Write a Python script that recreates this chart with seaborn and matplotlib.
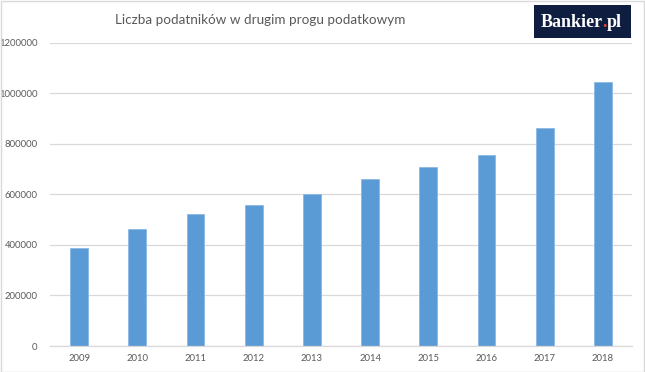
import matplotlib
matplotlib.use("Agg")
import matplotlib.pyplot as plt
import seaborn as sns
import pandas as pd
from matplotlib.patches import Rectangle
from matplotlib import font_manager

years = ["2009", "2010", "2011", "2012", "2013", "2014", "2015", "2016", "2017", "2018"]
taxpayers = [386000, 464000, 522000, 558000, 603000, 659000, 710000, 754000, 864000, 1044000]
yticks = [0, 200000, 400000, 600000, 800000, 1000000, 1200000]
title = "Liczba podatników w drugim progu podatkowym"

df = pd.DataFrame({"year": years, "value": taxpayers})

sns.set_theme(style="white")
names = {f.name for f in font_manager.fontManager.ttflist}
title_family = "Liberation Sans Narrow" if "Liberation Sans Narrow" in names else "Lato"
plt.rcParams['font.family'] = ['Lato', 'DejaVu Sans']

fig = plt.figure(figsize=(6.45, 3.72), dpi=100)
ax = fig.add_axes([50/645, 26/372, 582/645, 303.3/372])

sns.barplot(data=df, x="year", y="value", ax=ax, color="#5B9BD5",
            saturation=1, width=0.305, edgecolor="#8CB8E4", linewidth=0.6)

ax.set_ylim(0, 1200000)
ax.set_xlim(-0.5, 9.5)
ax.set_yticks(yticks)
ax.set_yticklabels([str(v) for v in yticks])
ax.set_xlabel("")
ax.set_ylabel("")
ax.grid(axis="y", color="#D9D9D9", linewidth=0.9)
ax.set_axisbelow(True)
for s in ["top", "right", "left"]:
    ax.spines[s].set_visible(False)
ax.spines["bottom"].set_color("#D9D9D9")
ax.spines["bottom"].set_linewidth(0.9)
ax.tick_params(axis="both", length=0, labelsize=6.8, labelcolor="#595959")
ax.tick_params(axis="y", pad=9)
ax.tick_params(axis="x", pad=6)

renderer = fig.canvas.get_renderer()
tt = fig.text(260/645, 1 - 20/372, title, ha="center", va="center",
              fontsize=12, color="#595959", family=[title_family, "DejaVu Sans"])
w = tt.get_window_extent(renderer).width
tt.set_fontsize(12 * 288 / w)

# logo
fig.patches.append(Rectangle((534/645, 1 - 38/372), 97/645, 33/372,
                             transform=fig.transFigure, facecolor="#0E1D40",
                             edgecolor="none"))
logo_kw = dict(va="baseline", fontsize=13, fontweight="bold",
               family=["Liberation Serif"])
base_y = 1 - 27/372
parts = [("Bankier", "white"), (".", "#E8452C"), ("pl", "white")]
texts = []
for s, c in parts:
    t = fig.text(0, base_y, s, ha="left", color=c, **logo_kw)
    texts.append(t)
widths = [t.get_window_extent(renderer).width for t in texts]
total = sum(widths)
start = 581 - total / 2
for t, wd in zip(texts, widths):
    t.set_x(start / 645)
    start += wd

# border
fig.patches.append(Rectangle((0.5/645, 0.5/372), 643.5/645, 370.5/372,
                             transform=fig.transFigure, facecolor="none",
                             edgecolor="#D9D9D9", linewidth=1))

fig.savefig("out.png", dpi=100)
